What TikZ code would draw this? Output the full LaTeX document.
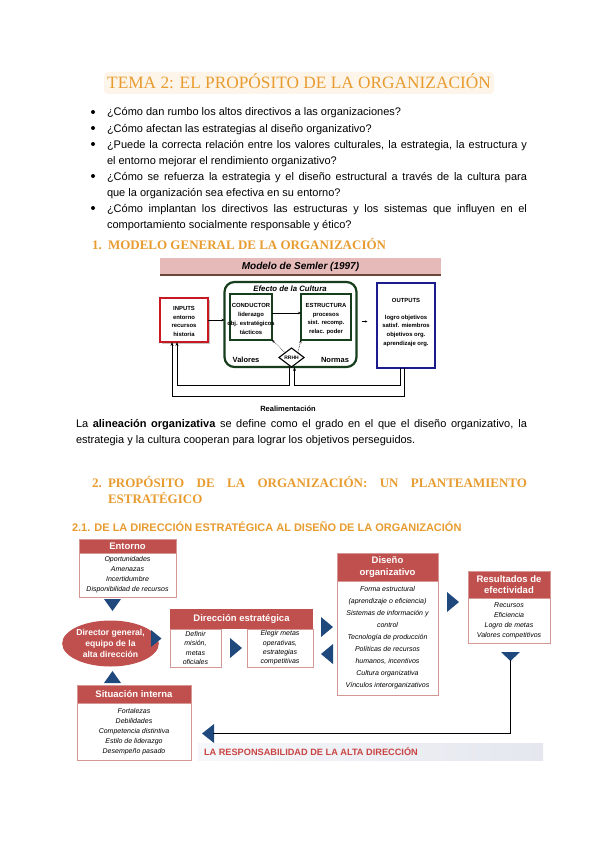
\documentclass[tikz,border=0pt]{standalone}
\usepackage{fontspec}
\setmainfont{Liberation Sans}
\newfontfamily\serifhead{Liberation Serif}
\usetikzlibrary{shapes.geometric,arrows.meta,calc}
\definecolor{orangeH}{RGB}{232,156,48}
\definecolor{titleglow}{RGB}{254,245,234}
\definecolor{redB}{RGB}{192,80,77}
\definecolor{redBorder}{RGB}{214,150,148}
\definecolor{blueT}{RGB}{31,73,125}
\definecolor{pinkBand}{RGB}{229,186,185}
\definecolor{bandLine}{RGB}{110,70,60}
\definecolor{greenD}{RGB}{22,62,28}
\definecolor{redIn}{RGB}{200,25,35}
\definecolor{blueOut}{RGB}{28,28,140}
\definecolor{bannerL}{RGB}{246,247,250}
\definecolor{bannerR}{RGB}{228,231,238}
\begin{document}
\begin{tikzpicture}[x=1pt,y=-1pt,
  every node/.style={inner sep=0pt, outer sep=0pt},
  txt/.style={anchor=base west, font=\fontsize{11}{16}\selectfont},
  sec/.style={anchor=base west, text=orangeH, font=\serifhead\bfseries\fontsize{13}{16}\selectfont},
  smb/.style={font=\bfseries\fontsize{5.9}{8.8}\selectfont, align=center},
  semlbl/.style={font=\bfseries\fontsize{7.5}{9}\selectfont},
  fb/.style={line width=1pt, -{Stealth[length=4pt,width=3pt]}},
  hdr/.style={fill=redB, text=white, font=\bfseries\fontsize{9.5}{11}\selectfont, align=center, anchor=north west},
  bodybox/.style={draw=redBorder, fill=white, line width=0.7pt, anchor=north west, align=center, font=\itshape\fontsize{7}{10}\selectfont},
  tri/.style={fill=blueT}
]
\useasboundingbox[fill=white] (0,0) rectangle (600,848);

% ---------------- title ----------------
\fill[titleglow, rounded corners=4pt] (104,72) rectangle (494,94);
\node[anchor=base, text=orangeH, font=\serifhead\fontsize{17.3}{20}\selectfont] (title) at (299,89) {TEMA 2: EL PROPÓSITO DE LA ORGANIZACIÓN};

% ---------------- bullets ----------------
\foreach \yy in {112,128,144,176,208} \fill (93,\yy) circle (2);
\node[txt] (b1) at (107,116) {¿Cómo dan rumbo los altos directivos a las organizaciones?};
\node[txt] (b2) at (107,132) {¿Cómo afectan las estrategias al diseño organizativo?};
\node[txt] (b3a) at (107,148) {\makebox[420pt][s]{¿Puede la correcta relación entre los valores culturales, la estrategia, la estructura y}};
\node[txt] (b3b) at (107,164) {el entorno mejorar el rendimiento organizativo?};
\node[txt] (b4a) at (107,180) {\makebox[420pt][s]{¿Cómo se refuerza la estrategia y el diseño estructural a través de la cultura para}};
\node[txt] (b4b) at (107,196) {que la organización sea efectiva en su entorno?};
\node[txt] (b5a) at (107,212) {\makebox[420pt][s]{¿Cómo implantan los directivos las estructuras y los sistemas que influyen en el}};
\node[txt] (b5b) at (107,228) {comportamiento socialmente responsable y ético?};

% ---------------- section 1 ----------------
\node[sec] (s1n) at (92,249) {1.};
\node[sec] (s1) at (108,249) {MODELO GENERAL DE LA ORGANIZACIÓN};

% ---------------- Semler model ----------------
\node[fill=pinkBand, minimum width=281pt, minimum height=17pt, anchor=north west] (band) at (160,258) {};
\draw[bandLine, line width=1.1pt] (band.south west) -- (band.south east);
\node[font=\bfseries\itshape\fontsize{10}{12}\selectfont] (bandt) at (band.center) {Modelo de Semler (1997)};

\node[draw=greenD, line width=2.2pt, rounded corners=10pt, minimum width=132pt, minimum height=85pt, anchor=north west] (cult) at (224.5,282) {};
\node[anchor=base, font=\bfseries\itshape\fontsize{7.8}{9}\selectfont] (cultt) at (290,291) {Efecto de la Cultura};

\node[draw=greenD, line width=1.6pt, minimum width=42pt, minimum height=46pt, anchor=north west] (cond) at (230,294) {};
\node[smb] (condt) at (251,319) {CONDUCTOR\\liderazgo\\obj. estratégicos\\tácticos};
\node[draw=greenD, line width=1.6pt, minimum width=50pt, minimum height=46pt, anchor=north west] (estr) at (301,294) {};
\node[smb] (estrt) at (326,319) {ESTRUCTURA\\procesos\\sist. recomp.\\relac. poder};
\draw[line width=0.6pt, -{Stealth[length=3pt,width=2.5pt]}] (cond.east |- 0,313) -- (estr.west |- 0,313);

\node[diamond, draw=black, fill=white, line width=1.1pt, minimum width=25pt, minimum height=19pt, font=\bfseries\fontsize{5}{6}\selectfont] (rrhh) at (291.5,357.5) {RRHH};
\draw[densely dotted, line width=0.6pt, -{Stealth[length=3pt,width=2.5pt]}] (rrhh.north west) -- (cond.south east);
\draw[densely dotted, line width=0.6pt, -{Stealth[length=3pt,width=2.5pt]}] (rrhh.north east) -- (estr.south west);
\node[semlbl, anchor=base] (val) at (246,362) {Valores};
\node[semlbl, anchor=base] (norm) at (335,362) {Normas};

\fill[gray!45] (162,300) rectangle (210,344);
\node[draw=redIn, fill=white, line width=1.8pt, minimum width=48pt, minimum height=44pt, anchor=north west] (inputs) at (160,298) {};
\node[smb] (inputst) at (184,321.5) {INPUTS\\entorno\\recursos\\historia};
\draw[line width=0.6pt, -{Stealth[length=3pt,width=2.5pt]}] (inputs.east) -- (inputs.east -| cult.west);

\node[draw=blueOut, fill=white, line width=1.8pt, minimum width=58pt, minimum height=85pt, anchor=north west] (outputs) at (377,283) {};
\node[smb] (outputst) at (406,322.5) {OUTPUTS\\[8pt]logro objetivos\\satisf. miembros\\objetivos org.\\aprendizaje org.};
\draw[line width=0.6pt, -{Stealth[length=2.5pt,width=2pt]}] ($(cult.east)+(5,-3)$) -- ($(cult.east)+(11,-3)$);

\draw[fb] ([xshift=-2pt]outputs.south) -- ++(0,28) -| ([xshift=-12pt]inputs.south);
\draw[fb] ([xshift=-2pt]rrhh.south) -- ++(0,18) -| ([xshift=-7pt]inputs.south);
\draw[fb] ([xshift=-6pt]outputs.south) -- ++(0,17) -| ([xshift=3pt]rrhh.south);
\node[semlbl, anchor=base] (realim) at (288,411) {Realimentación};

% ---------------- paragraph ----------------
\node[txt] (p1) at (76,427) {\makebox[451pt][s]{La \textbf{alineación organizativa} se define como el grado en el que el diseño organizativo, la}};
\node[txt] (p2) at (76,443) {estrategia y la cultura cooperan para lograr los objetivos perseguidos.};

% ---------------- section 2 ----------------
\node[sec] (s2n) at (92,487) {2.};
\node[sec] (s2a) at (108,487) {\makebox[419pt][s]{PROPÓSITO DE LA ORGANIZACIÓN: UN PLANTEAMIENTO}};
\node[sec] (s2b) at (108,503) {ESTRATÉGICO};
\node[anchor=base west, text=orangeH, font=\bfseries\fontsize{11}{13}\selectfont] (s21) at (72,531) {2.1. DE LA DIRECCIÓN ESTRATÉGICA AL DISEÑO DE LA ORGANIZACIÓN};

% ---------------- strategic diagram ----------------
% Entorno
\node[hdr, minimum width=97pt, minimum height=14pt] (entH) at (79,539) {Entorno};
\node[bodybox, minimum width=97pt, minimum height=44pt] (entB) at (79,553) {Oportunidades\\Amenazas\\Incertidumbre\\Disponibilidad de recursos};
\draw[redBorder, line width=0.7pt] (entH.north west) rectangle (entB.south east);

% Director ellipse
\node[ellipse, fill=redB, text=white, minimum width=74pt, minimum height=46pt, align=center, font=\bfseries\fontsize{8.6}{11}\selectfont] (dir) at (110.5,643.5) {Director general,\\equipo de la\\alta dirección};

% Situación interna
\node[hdr, minimum width=114pt, minimum height=18pt] (sitH) at (77,685) {Situación interna};
\node[bodybox, minimum width=114pt, minimum height=57pt] (sitB) at (77,703) {Fortalezas\\Debilidades\\Competencia distintiva\\Estilo de liderazgo\\Desempeño pasado};
\draw[redBorder, line width=0.7pt] (sitH.north west) rectangle (sitB.south east);

% Dirección estratégica
\node[hdr, minimum width=143pt, minimum height=20pt] (deH) at (170,609) {Dirección estratégica};
\node[bodybox, minimum width=51pt, minimum height=38pt, font=\itshape\fontsize{7}{9.3}\selectfont] (deL) at (170,629) {Definir\\misión,\\metas\\oficiales};
\node[bodybox, minimum width=66pt, minimum height=38pt, font=\itshape\fontsize{7}{9.3}\selectfont] (deR) at (247,629) {Elegir metas\\operativas,\\estrategias\\competitivas};

% Diseño organizativo
\node[hdr, minimum width=101pt, minimum height=28pt, font=\bfseries\fontsize{9.5}{11.5}\selectfont] (doH) at (337,553) {Diseño\\organizativo};
\node[bodybox, minimum width=101pt, minimum height=114pt, font=\itshape\fontsize{7}{12}\selectfont] (doB) at (337,581) {Forma estructural\\(aprendizaje o eficiencia)\\Sistemas de información y\\control\\Tecnología de producción\\Políticas de recursos\\humanos, incentivos\\Cultura organizativa\\Vínculos interorganizativos};
\draw[redBorder, line width=0.7pt] (doH.north west) rectangle (doB.south east);

% Resultados
\node[hdr, minimum width=82pt, minimum height=27pt, font=\bfseries\fontsize{9.5}{11.5}\selectfont] (reH) at (468,571) {Resultados de\\efectividad};
\node[bodybox, minimum width=82pt, minimum height=45pt] (reB) at (468,598) {Recursos\\Eficiencia\\Logro de metas\\Valores competitivos};
\draw[redBorder, line width=0.7pt] (reH.north west) rectangle (reB.south east);

% triangles
\fill[tri] (104,599) -- (121,599) -- (112.5,611) -- cycle;
\fill[tri] (151,630) -- (151,647) -- (161.5,638.5) -- cycle;
\fill[tri] (104,683) -- (121,683) -- (112.5,671) -- cycle;
\fill[tri] (230,638) -- (230,658) -- (242,648) -- cycle;
\fill[tri] (321,617) -- (321,637) -- (333,627) -- cycle;
\fill[tri] (333,644) -- (333,664) -- (321,654) -- cycle;
\fill[tri] (447,592) -- (447,612) -- (459,602) -- cycle;
\fill[tri] (501,652) -- (520,652) -- (510.5,661) -- cycle;
\fill[tri] (214,724) -- (214,743) -- (202,733.5) -- cycle;

% feedback line
\coordinate (fbS) at (510.5,660);
\coordinate (fbE) at (213,733.5);
\draw[line width=1.3pt] (fbS) |- (fbE);

% banner
\shade[left color=bannerL, right color=bannerR] (198,743) rectangle (543,760);
\node[anchor=base west, text=redB!85!red, font=\bfseries\fontsize{9.2}{11}\selectfont] (resp) at (204,755.5) {LA RESPONSABILIDAD DE LA ALTA DIRECCIÓN};
\end{tikzpicture}
\end{document}
